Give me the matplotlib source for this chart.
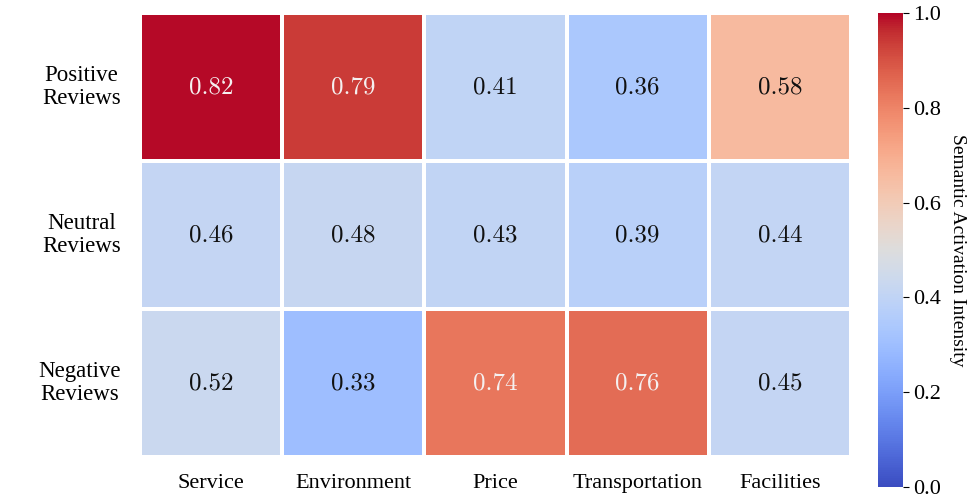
import numpy as np
import matplotlib.pyplot as plt
import matplotlib.colors as mcolors
import seaborn as sns

# 语义激活强度数据
aspects = ['Service', 'Environment', 'Price', 'Transportation', 'Facilities']
review_types = ['Positive\nReviews', 'Neutral\nReviews', 'Negative\nReviews']
positive = [0.82, 0.79, 0.41, 0.36, 0.58]
neutral = [0.46, 0.48, 0.43, 0.39, 0.44]
negative = [0.52, 0.33, 0.74, 0.76, 0.45]

data = np.array([positive, neutral, negative])

plt.rcParams['font.family'] = ['Liberation Serif', 'DejaVu Serif']

# 分段映射：让中段数值的色差更明显
knots_v = [0.0, 0.33, 0.41, 0.52, 0.58, 0.74, 0.76, 0.79, 0.82, 1.0]
knots_c = [0.0, 0.30, 0.40, 0.43, 0.66, 0.83, 0.85, 0.94, 0.995, 1.0]
norm = mcolors.FuncNorm((lambda v: np.interp(v, knots_v, knots_c),
                         lambda c: np.interp(c, knots_c, knots_v)), vmin=0, vmax=1)

fig = plt.figure(figsize=(9.79, 5.0), dpi=100)
ax = fig.add_axes([140/979, 1 - 457/500, 711/979, 444/500])
cax = fig.add_axes([878/979, 1 - 487/500, 25/979, 474/500])

sns.heatmap(data, ax=ax, cmap='coolwarm', norm=norm, cbar=False,
            linewidths=1.5, linecolor='white', annot=False)

for i in range(data.shape[0]):
    for j in range(data.shape[1]):
        v = data[i, j]
        ax.text(j + 0.5, i + 0.5, f'{v:.2f}', ha='center', va='center',
                fontsize=18, family='cmr10',
                color='#f5f0f0' if v > 0.7 else '#111111')

ax.set_xticklabels(aspects, fontsize=16)
ax.set_yticklabels(review_types, fontsize=16.5, rotation=0, ha='right', ma='center',
                   linespacing=1.15)
ax.tick_params(axis='both', length=0)
ax.tick_params(axis='x', pad=12)
ax.tick_params(axis='y', pad=14)

# 色条按 0~1 线性刻度
sm = plt.cm.ScalarMappable(cmap='coolwarm', norm=mcolors.Normalize(0, 1))
cb = fig.colorbar(sm, cax=cax)
cb.set_ticks([0.0, 0.2, 0.4, 0.6, 0.8, 1.0])
cb.ax.tick_params(labelsize=16, length=4, width=0.8)
cb.outline.set_visible(False)
cb.set_label('Semantic Activation Intensity', rotation=270, fontsize=14, labelpad=18)

plt.savefig('out.png', dpi=100)
